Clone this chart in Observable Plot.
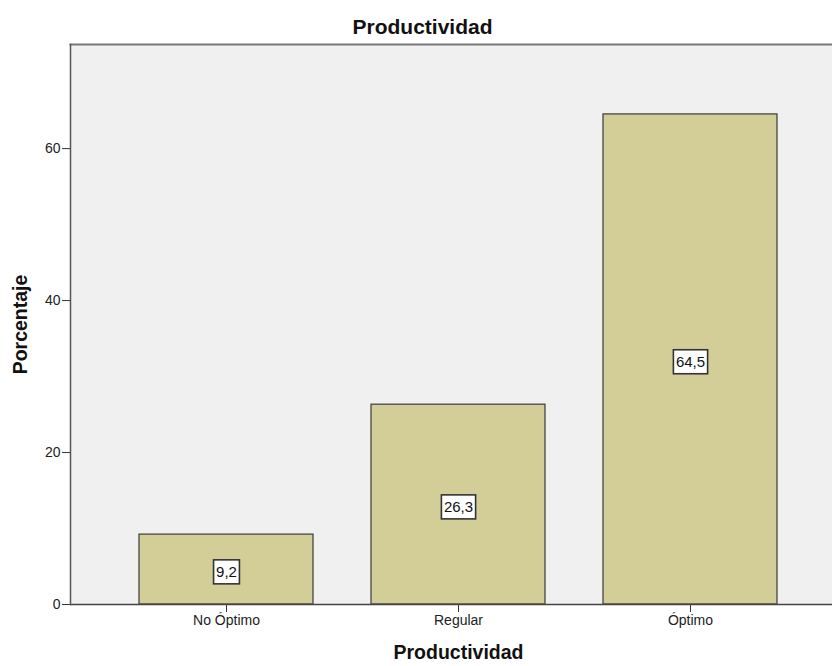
<!DOCTYPE html>
<html>
<head>
<meta charset="utf-8">
<script src="https://cdn.jsdelivr.net/npm/d3@7"></script>
<script src="https://cdn.jsdelivr.net/npm/@observablehq/plot@0.6"></script>
<style>
  html, body { margin: 0; padding: 0; background: #fff; }
  #chart svg { overflow: hidden; }
</style>
</head>
<body>
<div id="chart"></div>
<script>
const categories = ["No Óptimo", "Regular", "Óptimo"];
const values = [9.2, 26.3, 64.5];
const yTicks = [0, 20, 40, 60];
const chartTitle = "Productividad";
const xTitle = "Productividad";
const yTitle = "Porcentaje";

const data = categories.map((c, i) => ({category: c, value: values[i]}));
const fmt = v => String(v).replace(".", ",");

const font = "'Liberation Sans', Arial, sans-serif";

const plot = Plot.plot({
  width: 832,
  height: 666,
  marginTop: 44,
  marginBottom: 62,
  marginLeft: 70,
  marginRight: -14,
  style: {fontFamily: font, fontSize: "14px", color: "#222", background: "#fff", overflow: "hidden"},
  x: {domain: categories, paddingInner: 0.25, paddingOuter: 0.297, label: null},
  y: {domain: [0, 73.7], label: null},
  marks: [
    Plot.frame({fill: "#f0f0f0", stroke: "none"}),
    Plot.barY(data, {x: "category", y: "value", fill: "#d3ce97", stroke: "#3a3a3a", strokeWidth: 1.2}),
    Plot.axisY({ticks: yTicks, tickSize: 8, tickPadding: 2, stroke: "#333", fill: "#222", fontSize: 14, label: null}),
    Plot.axisX({tickSize: 8, tickPadding: 3, stroke: "#333", fill: "#222", fontSize: 14, label: null}),
    Plot.ruleY([0], {stroke: "#444", strokeWidth: 1.3}),
    Plot.frame({stroke: "#777", strokeWidth: 2, anchor: "top"}),
    Plot.frame({stroke: "#555", strokeWidth: 1.5, anchor: "left"}),
    Plot.text(data, {x: "category", y: d => d.value / 2, text: d => fmt(d.value), dy: 3, fill: "#111", fontSize: 15, className: "vlabel"}),
    Plot.text([chartTitle], {frameAnchor: "top", lineAnchor: "middle", dx: -36, dy: -17, fontSize: 21, fontWeight: "bold", fill: "#111", letterSpacing: 0.4}),
    Plot.text([xTitle], {frameAnchor: "bottom", dy: 54, fontSize: 19.5, fontWeight: "bold", fill: "#111"}),
    Plot.text([yTitle], {frameAnchor: "left", textAnchor: "middle", dx: -50, rotate: -90, fontSize: 19.5, fontWeight: "bold", fill: "#111"})
  ]
});

document.getElementById("chart").appendChild(plot);

// white boxes behind value labels
plot.querySelectorAll("g.vlabel text").forEach(t => {
  const b = t.getBBox();
  const cy = b.y + b.height / 2;
  const h = 24;
  const r = document.createElementNS("http://www.w3.org/2000/svg", "rect");
  r.setAttribute("x", b.x - 2.5);
  r.setAttribute("y", cy - h / 2);
  r.setAttribute("width", b.width + 5);
  r.setAttribute("height", h);
  r.setAttribute("fill", "#fff");
  r.setAttribute("stroke", "#333");
  r.setAttribute("stroke-width", 1.6);
  if (t.getAttribute("transform")) r.setAttribute("transform", t.getAttribute("transform"));
  t.parentNode.insertBefore(r, t);
});
</script>
</body>
</html>
